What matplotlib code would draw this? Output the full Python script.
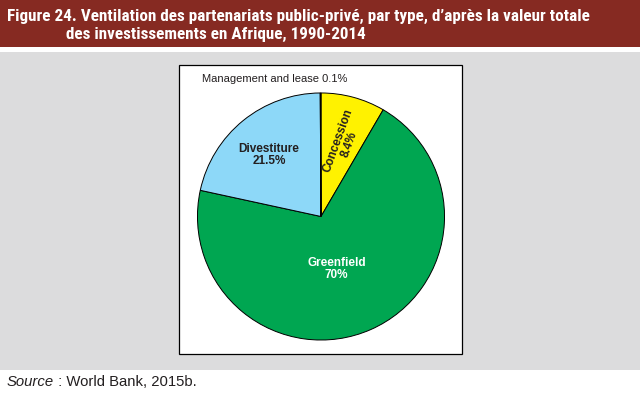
import os
import matplotlib
matplotlib.use('Agg')
from matplotlib import pyplot as plt
from matplotlib import font_manager as fm
from matplotlib.patches import Rectangle

W, H = 640, 397

# data
labels = ['Concession', 'Greenfield', 'Divestiture', 'Management and lease']
shares = [8.4, 70, 21.5, 0.1]
colors = ['#FFF200', '#00A651', '#8DD8F8', '#8DD8F8']

title1 = 'Figure 24. Ventilation des partenariats public-privé, par type, d\u2019après la valeur totale'
title2 = 'des investissements en Afrique, 1990-2014'

_files = {os.path.basename(f): f for f in fm.findSystemFonts()}


def font(fname, size, fallback_weight='normal', fallback_style='normal'):
    if fname in _files:
        return fm.FontProperties(fname=_files[fname], size=size)
    return fm.FontProperties(family='Liberation Sans', weight=fallback_weight,
                             style=fallback_style, size=size)


def px(x0, y0, x1, y1):
    # pixel box (top-left origin) -> figure fraction rect
    return [x0 / W, (H - y1) / H, (x1 - x0) / W, (y1 - y0) / H]


fig = plt.figure(figsize=(W / 100, H / 100), dpi=100)
fig.patch.set_facecolor('white')

# title bar
r = px(0, 0, W, 47)
fig.patches.append(Rectangle((r[0], r[1]), r[2], r[3], transform=fig.transFigure,
                             facecolor='#862A22', edgecolor='none', zorder=0))
tkw = dict(color='white', fontsize=12.3, fontweight='bold', va='center', ha='left',
           family=['Roboto Condensed', 'Asap Condensed', 'Archivo Narrow', 'DejaVu Sans'])
fig.text(7 / W, 1 - 16 / H, title1, **tkw)
fig.text(66 / W, 1 - 34 / H, title2, **tkw)

# gray panel
r = px(0, 52, W, 370)
fig.patches.append(Rectangle((r[0], r[1]), r[2], r[3], transform=fig.transFigure,
                             facecolor='#DCDCDD', edgecolor='none', zorder=0))
# white box
r = px(179, 65, 462, 354)
fig.patches.append(Rectangle((r[0], r[1]), r[2], r[3], transform=fig.transFigure,
                             facecolor='white', edgecolor='black', linewidth=0.9, zorder=1))

# pie
cx, cy, rad = 321, 216.5, 126
ax = fig.add_axes(px(cx - rad, cy - rad, cx + rad, cy + rad))
ax.set_zorder(2)
ax.pie(shares, colors=colors, startangle=90, counterclock=False, radius=1,
       wedgeprops=dict(edgecolor='black', linewidth=0.7))
ax.set_xlim(-1.02, 1.02)
ax.set_ylim(-1.02, 1.02)
ax.set_aspect('equal')
ax.axis('off')


def d(x, y):
    return (x - cx) / rad, (cy - y) / rad


bold = font('LiberationSans-Bold.ttf', 8.5, 'bold')
lab_kw = dict(fontproperties=bold, ha='center', va='center', multialignment='center',
              linespacing=1.0)
ax.text(*d(344, 141), '%s\n%.1f%%' % (labels[0], shares[0]), rotation=70,
        rotation_mode='anchor', color='#231F20', **lab_kw)
ax.text(*d(268, 154), '%s\n%.1f%%' % (labels[2], shares[2]), color='#231F20', **lab_kw)
ax.text(*d(337, 270), '%s\n%d%%' % (labels[1], shares[1]), color='white', **lab_kw)

fig.text(275 / W, 1 - 79 / H, '%s %.1f%%' % (labels[3], shares[3]),
         fontproperties=font('LiberationSans-Regular.ttf', 8),
         ha='center', va='center', color='#231F20', zorder=3)

# source
src = fig.text(7 / W, 1 - 382 / H, 'Source',
               fontproperties=font('LiberationSans-Italic.ttf', 10.7, fallback_style='italic'),
               va='center', ha='left', color='#231F20')
ax.annotate(' : World Bank, 2015b.', xy=(1, 0.5), xycoords=src, va='center', ha='left',
            fontproperties=font('LiberationSans-Regular.ttf', 10.7), color='#231F20',
            annotation_clip=False)

fig.savefig('out.png', dpi=100)
